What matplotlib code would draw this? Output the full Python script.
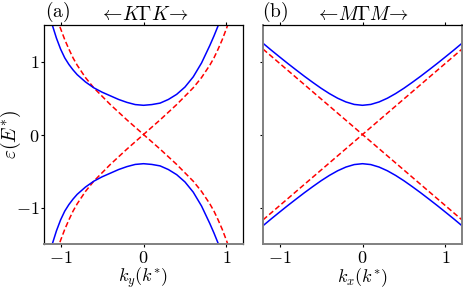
import matplotlib
matplotlib.use("Agg")
import matplotlib.pyplot as plt

plt.rcParams['mathtext.fontset'] = 'cm'
plt.rcParams['font.family'] = ['DejaVu Serif']

# ---- panel (a): K-Gamma-K ----
ka_blue = [-1.12, -1.10, -1.05, -1.00, -0.95, -0.90, -0.85, -0.80, -0.70, -0.60, -0.50, -0.40,
           -0.30, -0.20, -0.10, 0.00, 0.10, 0.20, 0.30, 0.40, 0.50, 0.60, 0.70, 0.80, 0.85, 0.90, 0.92]
ea_blue_up = [1.57, 1.50, 1.32, 1.17, 1.05, 0.96, 0.885, 0.82, 0.72, 0.64, 0.58, 0.53,
              0.48, 0.44, 0.41, 0.40, 0.41, 0.43, 0.48, 0.55, 0.65, 0.79, 0.98, 1.22, 1.35, 1.49, 1.55]
ea_blue_dn = [-1.57, -1.50, -1.32, -1.17, -1.05, -0.96, -0.885, -0.82, -0.72, -0.64, -0.58, -0.53,
              -0.48, -0.44, -0.41, -0.40, -0.41, -0.43, -0.48, -0.55, -0.65, -0.79, -0.98, -1.22, -1.35, -1.49, -1.55]

ka_red = [-1.04, -1.00, -0.95, -0.90, -0.85, -0.80, -0.70, -0.60, -0.40, -0.20, 0.00,
          0.20, 0.40, 0.60, 0.70, 0.80, 0.85, 0.90, 0.95, 1.00, 1.04]
ea_red_up = [1.58, 1.45, 1.30, 1.17, 1.05, 0.95, 0.78, 0.64, 0.41, 0.20, 0.00,
             0.20, 0.41, 0.64, 0.78, 0.95, 1.05, 1.17, 1.30, 1.45, 1.58]
ea_red_dn = [-1.58, -1.45, -1.30, -1.17, -1.05, -0.95, -0.78, -0.64, -0.41, -0.20, 0.00,
             -0.20, -0.41, -0.64, -0.78, -0.95, -1.05, -1.17, -1.30, -1.45, -1.58]

# ---- panel (b): M-Gamma-M ----
kb_blue = [-1.2, -1.1, -1.0, -0.9, -0.8, -0.7, -0.6, -0.5, -0.4, -0.3, -0.2, -0.1, 0.0,
           0.1, 0.2, 0.3, 0.4, 0.5, 0.6, 0.7, 0.8, 0.9, 1.0, 1.1, 1.2]
eb_blue_up = [1.25, 1.155, 1.063, 0.972, 0.884, 0.797, 0.714, 0.634, 0.561, 0.497, 0.446, 0.412, 0.40,
              0.412, 0.446, 0.497, 0.561, 0.634, 0.714, 0.797, 0.884, 0.972, 1.063, 1.155, 1.25]
eb_blue_dn = [-1.25, -1.155, -1.063, -0.972, -0.884, -0.797, -0.714, -0.634, -0.561, -0.497, -0.446, -0.412, -0.40,
              -0.412, -0.446, -0.497, -0.561, -0.634, -0.714, -0.797, -0.884, -0.972, -1.063, -1.155, -1.25]

kb_red = [-1.2, -0.6, 0.0, 0.6, 1.2]
eb_red_up = [1.17, 0.585, 0.0, 0.585, 1.17]
eb_red_dn = [-1.17, -0.585, 0.0, -0.585, -1.17]

xticks = [-1, 0, 1]
yticks = [-1, 0, 1]
tick_labels = [r'$-1$', r'$0$', r'$1$']

FS = 14
TFS = 13
XFS = 13

fig = plt.figure(figsize=(4.63, 2.89), dpi=100)
axa = fig.add_axes([44/463, 45/289, 199/463, 219/289])
axb = fig.add_axes([263/463, 45/289, 199/463, 219/289])

blue_kw = dict(color='#0000ff', lw=1.1, solid_capstyle='butt', solid_joinstyle='round')
red_kw = dict(color='#ff0000', lw=1.1, ls=(0, (3.5, 1.8)))

axa.plot(ka_red, ea_red_up, **red_kw)
axa.plot(ka_red, ea_red_dn, **red_kw)
axa.plot(ka_blue, ea_blue_up, **blue_kw)
axa.plot(ka_blue, ea_blue_dn, **blue_kw)

axb.plot(kb_red, eb_red_up, **red_kw)
axb.plot(kb_red, eb_red_dn, **red_kw)
axb.plot(kb_blue, eb_blue_up, **blue_kw)
axb.plot(kb_blue, eb_blue_dn, **blue_kw)

for ax in (axa, axb):
    ax.set_xlim(-1.2, 1.2)
    ax.set_ylim(-1.5, 1.5)
    ax.set_xticks(xticks)
    ax.set_yticks(yticks)
    ax.set_xticklabels(tick_labels, fontsize=TFS)
    ax.tick_params(axis='both', direction='out', length=2.5, width=0.8,
                   top=True, right=False, pad=1)
    for s in ax.spines.values():
        s.set_linewidth(0.9)
        s.set_color('black')
    ax.spines['bottom'].set_color('0.5')
    ax.spines['bottom'].set_linewidth(1.4)

axa.set_yticklabels(tick_labels, fontsize=TFS)
axb.set_yticklabels([])
axb.spines['left'].set_color('0.5')
axb.spines['left'].set_linewidth(1.4)
axb.spines['right'].set_color('0.5')
axb.spines['right'].set_linewidth(1.4)

axa.set_ylabel(r'$\varepsilon(E^{*})$', fontsize=FS, va='center')
axa.yaxis.set_label_coords(-0.165, 0.5)
axa.set_xlabel(r'$k_y(k^{*})$', fontsize=XFS, va='top')
axa.xaxis.set_label_coords(0.5, -0.1)
axb.set_xlabel(r'$k_x(k^{*})$', fontsize=XFS, va='top')
axb.xaxis.set_label_coords(0.5, -0.1)

axa.set_title(r'$\leftarrow\! K\Gamma K \!\rightarrow$', fontsize=FS, pad=3.5)
axb.set_title(r'$\leftarrow\! M\Gamma M \!\rightarrow$', fontsize=FS, pad=3.5)
axa.text(0.005, 1.006, r'$\mathrm{(a)}$', transform=axa.transAxes, fontsize=FS,
         ha='left', va='bottom')
axb.text(-0.005, 1.006, r'$\mathrm{(b)}$', transform=axb.transAxes, fontsize=FS,
         ha='left', va='bottom')

fig.savefig('out.png', dpi=100)
